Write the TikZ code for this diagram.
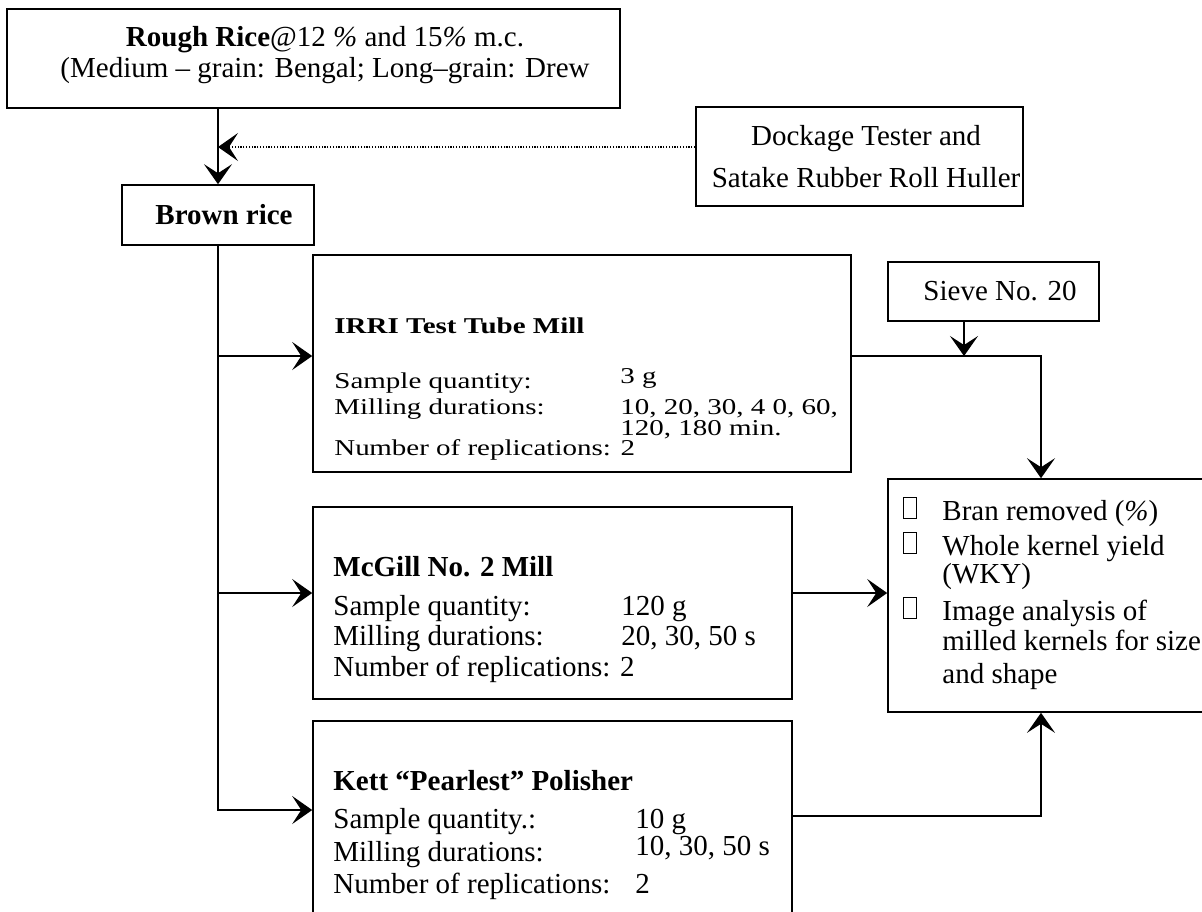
\documentclass[tikz,border=0pt]{standalone}
\usepackage{fontspec}
\setmainfont{Liberation Serif}
\usepackage{graphicx}
\usetikzlibrary{arrows.meta}
\tikzstyle{box} = [draw=black, line width=0.8pt, rectangle, inner sep=0pt]
\tikzstyle{txt} = [inner sep=0pt, anchor=base west, font={\fontsize{14.5}{15}\selectfont}]
\tikzstyle{ctxt} = [txt, anchor=base]
\tikzstyle{flow} = [line width=0.8pt, -{Stealth[length=10pt,width=14pt,inset=4.5pt]}]
\tikzstyle{feed} = [flow, line width=0.6pt, dash pattern=on 0.6pt off 0.8pt]
\newcommand\tofu{\leavevmode\llap{\raisebox{1pt}{\setlength\fboxsep{0pt}\setlength\fboxrule{0.5pt}\fbox{\rule{0pt}{10pt}\hspace{6pt}}}\hspace{12.5pt}}}

\begin{document}
\begin{tikzpicture}[x=0.5pt,y=-0.5pt]
        \useasboundingbox (0,0) rectangle (1202,911);
        % boxes
        \node[box, minimum width=306.5pt, minimum height=49.5pt](rough) at (313.5,58.5){};
        \node[box, minimum width=163.5pt, minimum height=49.5pt](hull) at (859.5,156.5){};
        \node[box, minimum width=96pt, minimum height=30pt](brown) at (218,215){};
        \node[box, minimum width=269pt, minimum height=108.5pt](irri) at (582,363.5){};
        \node[box, minimum width=105.5pt, minimum height=29.5pt](sieve) at (993.5,291.5){};
        \node[box, minimum width=239.5pt, minimum height=96pt](mcgill) at (552.5,603){};
        \node[box, minimum width=239.5pt, minimum height=104.5pt](kett) at (552.5,825.5){};
        \node[box, minimum width=161pt, minimum height=116.5pt](res) at (1049,595.5){};
        % texts
        \node[ctxt](roughtxt) at (325,46){\parbox[t]{300pt}{\centering\textbf{Rough Rice}@12 \textit{\%} and 15\textit{\%} m.c.\\[0.5pt] (Medium – grain: Bengal; Long–grain: Drew}};
        \node[ctxt](hulltxt) at (866,145){\parbox[t]{170pt}{\centering Dockage Tester and\\[6pt] Satake Rubber Roll Huller}};
        \node[ctxt](browntxt) at (224,224){\textbf{Brown rice}};
        \node[ctxt](sievetxt) at (1000,300){Sieve No. 20};
        \node[txt](irritxt) at (334,333){\scalebox{1}[0.78]{\parbox[t]{260pt}{\textbf{IRRI Test Tube Mill}\\[20.3pt]
          \makebox[143pt][l]{Sample quantity:}\raisebox{3.2pt}{3 g}\\[1.7pt]
          \makebox[143pt][l]{Milling durations:}10, 20, 30, 4 0, 60,\\[-1.5pt]
          \makebox[143pt][l]{}120, 180 min.\\[-2.2pt]
          \hspace{2pt}N\makebox[7pt][l]{u}mber of replications: 2}}};
        \node[txt](mcgilltxt) at (333,576){\parbox[t]{235pt}{\textbf{McGill No. 2 Mill}\\[4.5pt]
          \makebox[144pt][l]{Sample quantity:}120 g\\
          \makebox[144pt][l]{Milling durations:}20, 30, 50 s\\[0.5pt]
          Number of replications: 2}};
        \node[txt](ketttxt) at (333,790){\parbox[t]{235pt}{\textbf{Kett “Pearlest” Polisher}\\[4pt]
          \makebox[151pt][l]{Sample quantity.:}10 g\\
          \makebox[151pt][l]{Milling durations:}\raisebox{3pt}{10, 30, 50 s}\\[1pt]
          \makebox[151pt][l]{Number of replications:}2}};
        \node[txt](restxt) at (942,520){\parbox[t]{140pt}{\tofu Bran removed (\textit{\%})\\[2.5pt]
          \tofu Whole kernel yield\\[-1pt]
          (WKY)\\[3.5pt]
          \tofu Image analysis of\\
          milled kernels for size\\[1.5pt]
          and shape}};
        % turning points
        \coordinate(yD) at (0,147);
        \coordinate(yI) at (0,356);
        \coordinate(yM) at (0,593);
        \coordinate(yK) at (0,810);
        \coordinate(yO) at (0,816);
        \coordinate(xS) at (964,0);
        \coordinate(xR) at (1041,0);
        % connectors
        \draw[flow](rough.south -| brown.north)--(brown.north);
        \draw[feed](hull.west |- yD)--(brown.north |- yD);
        \draw[flow](brown.south)|-(kett.west |- yK);
        \draw[flow](brown.south |- yI)--(irri.west |- yI);
        \draw[flow](brown.south |- yM)--(mcgill.west |- yM);
        \draw[flow](sieve.south -| xS)--(xS |- yI);
        \draw[flow](irri.east |- yI)-|(res.north -| xR);
        \draw[flow](mcgill.east |- yM)--(res.west |- yM);
        \draw[flow](kett.east |- yO)-|(res.south -| xR);
      \end{tikzpicture}
\end{document}
